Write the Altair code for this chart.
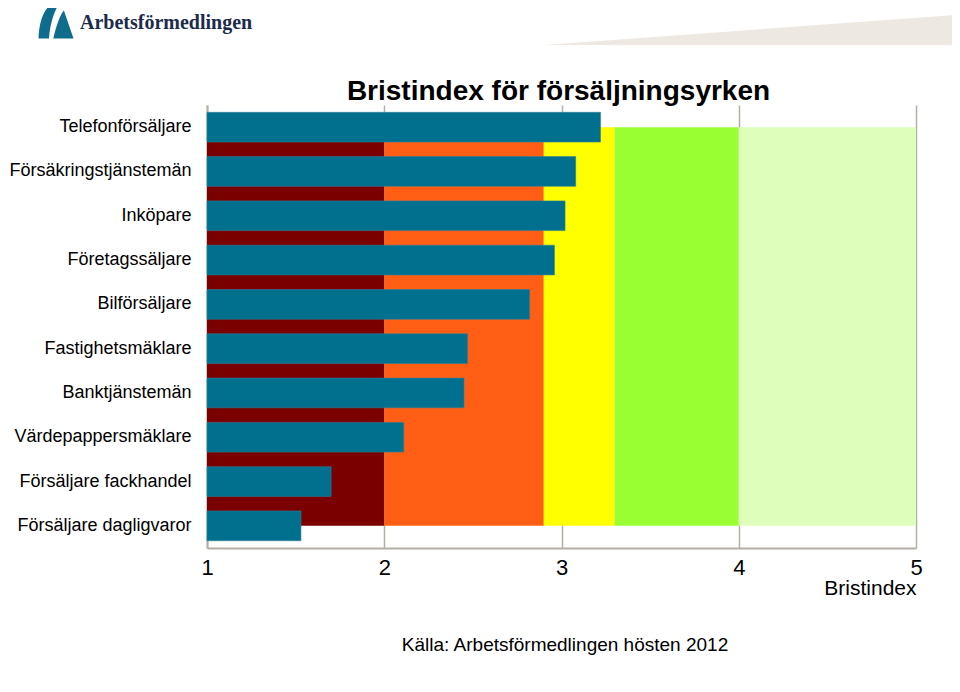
import altair as alt
import pandas as pd

# ---- data ----
categories = [
    "Telefonförsäljare",
    "Försäkringstjänstemän",
    "Inköpare",
    "Företagssäljare",
    "Bilförsäljare",
    "Fastighetsmäklare",
    "Banktjänstemän",
    "Värdepappersmäklare",
    "Försäljare fackhandel",
    "Försäljare dagligvaror",
]
values = [3.22, 3.08, 3.02, 2.96, 2.82, 2.47, 2.45, 2.11, 1.70, 1.53]

band_starts = [1.0, 2.0, 2.9, 3.3, 4.0]
band_ends = [2.0, 2.9, 3.3, 4.0, 5.0]
band_colors = ["#7A0000", "#FF5E14", "#FFFF00", "#99FF33", "#DDFFBB"]

x_ticks = [1, 2, 3, 4, 5]

title_text = "Bristindex för försäljningsyrken"
source_text = "Källa: Arbetsförmedlingen hösten 2012"
logo_text = "Arbetsförmedlingen"

W, H = 709, 443
FONT = "Liberation Sans"

bars_df = pd.DataFrame({"yrke": categories, "index": values})
n = len(categories)
bands_df = pd.DataFrame({
    "start": band_starts,
    "end": band_ends,
    "color": band_colors,
    "ytop": [0.5] * len(band_starts),
    "ybot": [n - 0.5] * len(band_starts),
})

x_scale = alt.Scale(domain=[1, 5], zero=False, nice=False)

bands = alt.Chart(bands_df).mark_rect().encode(
    x=alt.X("start:Q", scale=x_scale,
            axis=alt.Axis(values=x_ticks, format="d", title="Bristindex",
                          titleAnchor="end", titleFontSize=21, titleFontWeight="normal",
                          titleFont=FONT, titleColor="#000", titlePadding=-1,
                          labelFontSize=22, labelFont=FONT, labelColor="#000",
                          labelPadding=9, ticks=False, grid=True,
                          gridColor="#B4AFA5", gridWidth=1.5,
                          domainColor="#B4AFA5", domainWidth=2, labelFlush=False)),
    x2="end:Q",
    y=alt.Y("ytop:Q", scale=alt.Scale(domain=[0, n], reverse=True, nice=False, zero=False), axis=None),
    y2="ybot:Q",
    color=alt.Color("color:N", scale=None),
)

bars = alt.Chart(bars_df).mark_bar(color="#00708F", stroke="#2F7F98", strokeWidth=0.6).encode(
    x=alt.X("index:Q", scale=x_scale),
    x2=alt.datum(1),
    y=alt.Y("yrke:N", sort=categories,
            scale=alt.Scale(paddingInner=0.33, paddingOuter=0.165),
            axis=alt.Axis(title=None, ticks=False, labelFontSize=18, labelFont=FONT,
                          labelColor="#000", labelPadding=16, domainColor="#B4AFA5",
                          domainWidth=2, labelLimit=300)),
)

title = alt.Chart(pd.DataFrame({"t": [title_text]})).mark_text(
    fontSize=28, fontWeight="bold", font=FONT, color="#000", baseline="alphabetic", align="center"
).encode(x=alt.value(W / 2 - 3), y=alt.value(-5), text="t:N")

source = alt.Chart(pd.DataFrame({"t": [source_text]})).mark_text(
    fontSize=19, font=FONT, color="#000", baseline="alphabetic", align="center"
).encode(x=alt.value(358), y=alt.value(546), text="t:N")

logo = alt.Chart(pd.DataFrame({"t": [logo_text]})).mark_text(
    fontSize=20, fontWeight="bold", font="Liberation Serif", color="#1C2B4B",
    baseline="alphabetic", align="left"
).encode(x=alt.value(-127), y=alt.value(-76), text="t:N")

swoosh_path = ("M -1 1 C -0.95 -0.3 -0.5 -1 0 -1 L 0.2 -1 "
               "C -0.1 -0.6 -0.35 0.2 -0.4 1 Z "
               "M -0.15 1 C 0.0 0.3 0.25 -0.4 0.45 -0.6 L 1 1 Z")
swoosh = alt.Chart(pd.DataFrame({"k": [0]})).mark_point(
    shape=swoosh_path, filled=True, color="#0F6C8C", opacity=1, size=1225, strokeWidth=0
).encode(x=alt.value(-151), y=alt.value(-84))

wedge = alt.Chart(pd.DataFrame({"k": [0]})).mark_point(
    shape="M -1 0.073 L 1 -0.073 L 1 0.073 Z", filled=True, color="#EEE8E2",
    opacity=1, size=168921, strokeWidth=0
).encode(x=alt.value(543), y=alt.value(-75))

chart = alt.layer(bands, bars, title, source, logo, swoosh, wedge).resolve_scale(
    y="independent"
).properties(
    width=W, height=H,
    autosize=alt.AutoSizeParams(type="none"),
    padding={"left": 199, "top": 97, "right": 36, "bottom": 140},
).configure_view(stroke=None)

chart.save("out.html", embed_options={"renderer": "svg", "actions": False})
